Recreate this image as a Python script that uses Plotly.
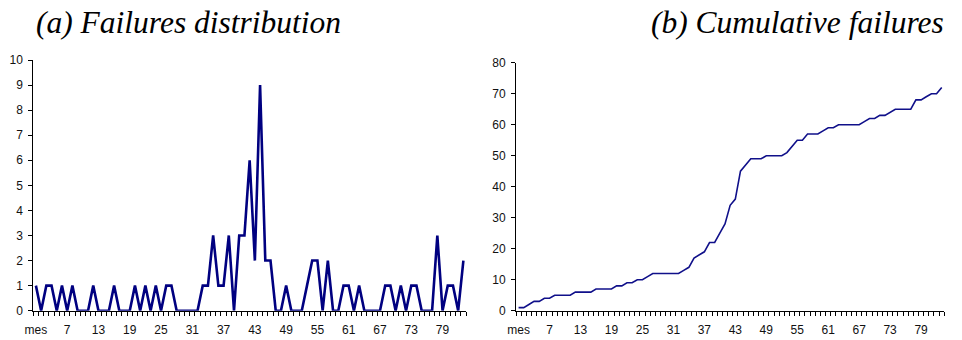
import plotly.graph_objects as go

# Month index (first month is labelled "mes" on the axis)
months = list(range(1, 84))

# Failures recorded in each month
failures = [1, 0, 1, 1, 0, 1, 0, 1, 0, 0,
            0, 1, 0, 0, 0, 1, 0, 0, 0, 1,
            0, 1, 0, 1, 0, 1, 1, 0, 0, 0,
            0, 0, 1, 1, 3, 1, 1, 3, 0, 3,
            3, 6, 2, 9, 2, 2, 0, 0, 1, 0,
            0, 0, 1, 2, 2, 0, 2, 0, 0, 1,
            1, 0, 1, 0, 0, 0, 0, 1, 1, 0,
            1, 0, 1, 1, 0, 0, 0, 3, 0, 1,
            1, 0, 2]

# Running total of failures
cumulative = [1, 1, 2, 3, 3, 4, 4, 5, 5, 5,
              5, 6, 6, 6, 6, 7, 7, 7, 7, 8,
              8, 9, 9, 10, 10, 11, 12, 12, 12, 12,
              12, 12, 13, 14, 17, 18, 19, 22, 22, 25,
              28, 34, 36, 45, 47, 49, 49, 49, 50, 50,
              50, 50, 51, 53, 55, 55, 57, 57, 57, 58,
              59, 59, 60, 60, 60, 60, 60, 61, 62, 62,
              63, 63, 64, 65, 65, 65, 65, 68, 68, 69,
              70, 70, 72]

x_tickvals = [1, 7, 13, 19, 25, 31, 37, 43, 49, 55, 61, 67, 73, 79]
x_ticktext = ["mes", "7", "13", "19", "25", "31", "37", "43", "49", "55", "61", "67", "73", "79"]

W, H = 962, 340
tick_font = dict(family="Liberation Sans, Arial, sans-serif", size=12, color="#111111")
title_font = dict(family="Liberation Serif, Times New Roman, serif", size=31.5, color="#000000", style="italic")

fig = go.Figure()

fig.add_trace(go.Scatter(x=months, y=failures, mode="lines",
                         line=dict(color="#000080", width=2.6),
                         xaxis="x", yaxis="y", showlegend=False))
fig.add_trace(go.Scatter(x=months, y=cumulative, mode="lines",
                         line=dict(color="#10108a", width=1.6),
                         xaxis="x2", yaxis="y2", showlegend=False))

def xaxis_style(domain, anchor):
    return dict(
        domain=domain, anchor=anchor, automargin=False,
        range=[0.5, len(months) + 0.5],
        tickmode="array", tickvals=x_tickvals, ticktext=x_ticktext,
        ticks="", showgrid=False, zeroline=False,
        showline=True, linecolor="#000000", linewidth=1,
        tickfont=tick_font, ticklabelstandoff=8,
        minor=dict(tick0=0.5, dtick=1, ticks="outside", ticklen=4,
                   tickcolor="#000000", tickwidth=1, showgrid=False),
    )

def yaxis_style(domain, anchor, rng, dtick):
    return dict(
        domain=domain, anchor=anchor, automargin=False,
        range=rng, dtick=dtick, tick0=0,
        ticks="outside", ticklen=4, tickcolor="#000000", tickwidth=1,
        showgrid=False, zeroline=False,
        showline=True, linecolor="#000000", linewidth=1,
        tickfont=tick_font, ticklabelstandoff=3,
    )

fig.update_layout(
    width=W, height=H,
    margin=dict(l=0, r=0, t=0, b=0),
    paper_bgcolor="#ffffff", plot_bgcolor="#ffffff",
    xaxis=xaxis_style([33.3 / W, 466 / W], "y"),
    yaxis=yaxis_style([(H - 310.7) / H, (H - 60) / H], "x", [0, 10], 1),
    xaxis2=xaxis_style([516 / W, 944.3 / W], "y2"),
    yaxis2=yaxis_style([(H - 310.7) / H, (H - 62.7) / H], "x2", [0, 80], 10),
    annotations=[
        dict(text="(a) Failures distribution", xref="paper", yref="paper",
             x=188 / W, y=(H - 23) / H, xanchor="center", yanchor="middle",
             showarrow=False, font=title_font),
        dict(text="(b) Cumulative failures", xref="paper", yref="paper",
             x=946 / W, y=(H - 23) / H, xanchor="right", yanchor="middle",
             showarrow=False, font=title_font),
    ],
)

fig.write_html("out.html")
